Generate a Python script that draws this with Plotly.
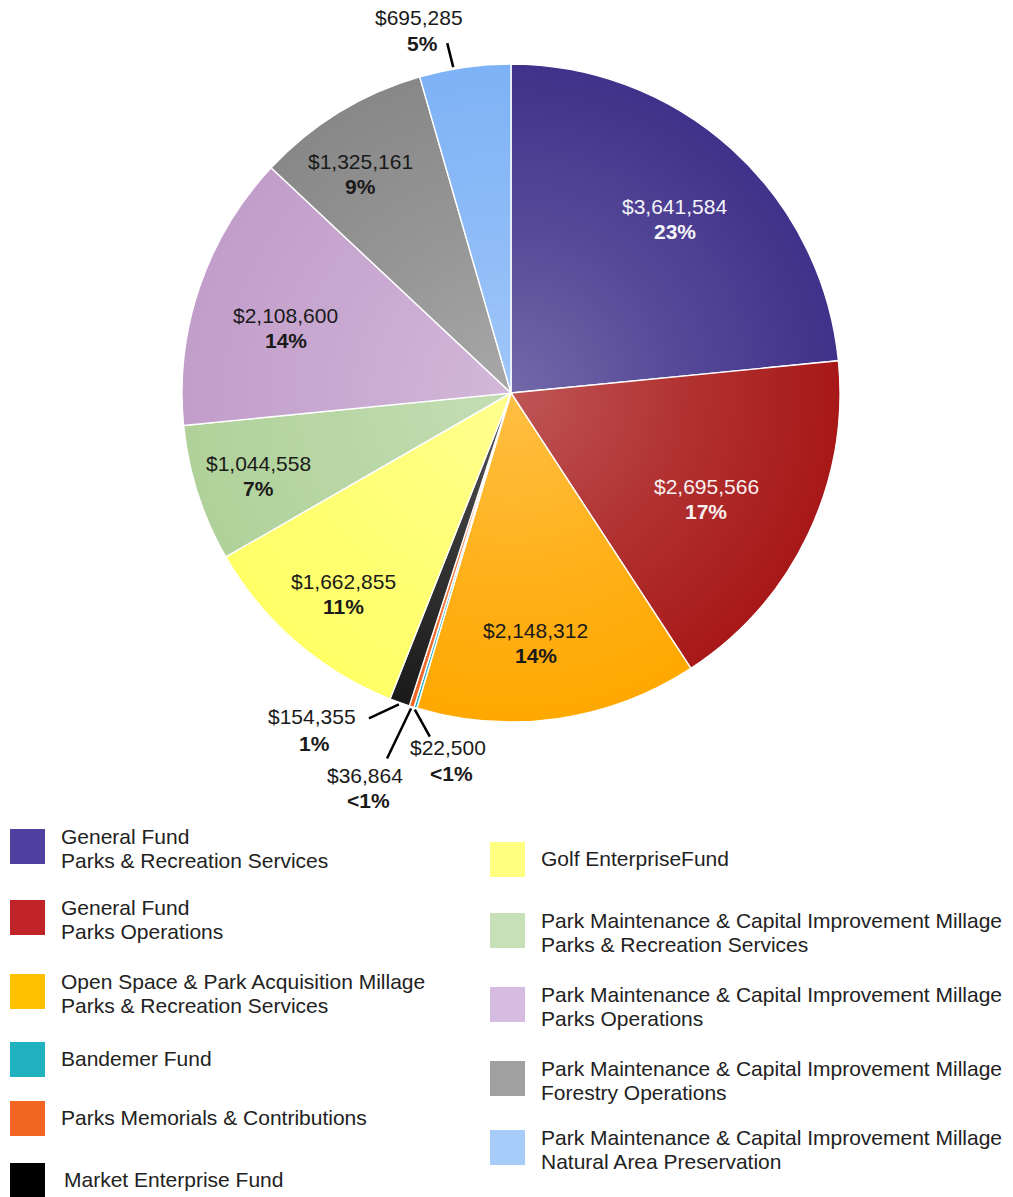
import math
import base64
import plotly.graph_objects as go

# ---- data ---------------------------------------------------------------
FUNDS = [
    "General Fund\nParks & Recreation Services",
    "General Fund\nParks Operations",
    "Open Space & Park Acquisition Millage\nParks & Recreation Services",
    "Bandemer Fund",
    "Parks Memorials & Contributions",
    "Market Enterprise Fund",
    "Golf EnterpriseFund",
    "Park Maintenance & Capital Improvement Millage\nParks & Recreation Services",
    "Park Maintenance & Capital Improvement Millage\nParks Operations",
    "Park Maintenance & Capital Improvement Millage\nForestry Operations",
    "Park Maintenance & Capital Improvement Millage\nNatural Area Preservation",
]
AMOUNTS = [3641584, 2695566, 2148312, 22500, 36864, 154355,
           1662855, 1044558, 2108600, 1325161, 695285]
PCT_LABELS = ["23%", "17%", "14%", "<1%", "<1%", "1%",
              "11%", "7%", "14%", "9%", "5%"]
# slice fills (outer tone; a radial sheen lightens them toward the centre)
COLORS = ["#40318a", "#a81818", "#ffa800", "#1fb0bf", "#f26522", "#1a1a1a",
          "#ffff66", "#b0d29a", "#c29ecb", "#888888", "#7eb2f6"]
# legend swatch fills
SWATCH_COLORS = ["#5040a0", "#c02428", "#ffc000", "#20b2c0", "#f26522", "#000000",
                 "#ffff80", "#c8e0b8", "#d6bce0", "#a0a0a0", "#a8ccfa"]

# ---- page geometry ------------------------------------------------------
W, H = 1013, 1197
CX, CY, R = 511, 393, 329
FONT = "Liberation Sans, Arial, sans-serif"
DARK = "#1a1a1a"
FS = 21

# label placement inside slices: (fraction of radius, angle tweak in degrees, colour)
INSIDE = {
    0: (0.72, 1.5, "#f4f4f8"),
    1: (0.68, 3.5, "#f8f0f0"),
    2: (0.77, 2.7, DARK),
    6: (0.80, -1.4, DARK),
    7: (0.81, -1.0, DARK),
    8: (0.71, -3.2, DARK),
    9: (0.80, -3.3, DARK),
}
# callouts: angle tweak, leader end offset, value-text offset, percent-text offset (px)
OUTSIDE = {
    10: dict(dt=-2.0, end=(-6, -24), val=(-28, -24), pct=(-25, 2)),
    5: dict(dt=0.0, end=(-30, 14), val=(-57, 0), pct=(-54, 27)),
    4: dict(dt=0.0, end=(-24, 50), val=(-22, 19), pct=(-19, 44)),
    3: dict(dt=0.0, end=(15, 27), val=(18, 13), pct=(22, 39)),
}
# legend: (column x of swatch, swatch top y)
LEGEND_POS = [
    (10, 829), (10, 900), (10, 974), (10, 1042), (10, 1101), (10, 1163),
    (490, 842), (490, 913), (490, 987), (490, 1061), (490, 1130),
]
SW = 35

total = sum(AMOUNTS)


def px(x, y):
    return x / W, 1 - y / H


def polar(theta_deg, rr):
    t = math.radians(theta_deg)
    return CX + rr * math.sin(t), CY - rr * math.cos(t)


fig = go.Figure(go.Pie(
    values=AMOUNTS,
    labels=[f.replace("\n", " ") for f in FUNDS],
    marker=dict(colors=COLORS, line=dict(color="white", width=1.4)),
    sort=False,
    direction="clockwise",
    rotation=0,
    textinfo="none",
    hoverinfo="label+value+percent",
    showlegend=False,
    domain=dict(x=[(CX - R) / W, (CX + R) / W],
                y=[1 - (CY + R) / H, 1 - (CY - R) / H]),
))

# radial sheen over the pie: lighter toward the centre
sheen_svg = (
    "<svg xmlns='http://www.w3.org/2000/svg' width='200' height='200' viewBox='0 0 200 200'>"
    "<defs><radialGradient id='g' cx='50%' cy='50%' r='50%'>"
    "<stop offset='0' stop-color='white' stop-opacity='0.27'/>"
    "<stop offset='0.5' stop-color='white' stop-opacity='0.12'/>"
    "<stop offset='1' stop-color='white' stop-opacity='0'/>"
    "</radialGradient></defs>"
    "<circle cx='100' cy='100' r='100' fill='url(#g)'/></svg>"
)
sheen_uri = "data:image/svg+xml;base64," + base64.b64encode(sheen_svg.encode()).decode()
ix, iy = px(CX - R, CY - R)
fig.add_layout_image(dict(
    source=sheen_uri, xref="paper", yref="paper", x=ix, y=iy,
    sizex=2 * R / W, sizey=2 * R / H, xanchor="left", yanchor="top",
    sizing="stretch", layer="above", opacity=1))

annotations = []
shapes = []


def text(x, y, s, color=DARK, bold=False, size=FS, anchor="center"):
    xp, yp = px(x, y)
    annotations.append(dict(
        x=xp, y=yp, xref="paper", yref="paper", showarrow=False,
        text=f"<b>{s}</b>" if bold else s, xanchor=anchor, yanchor="middle",
        font=dict(family=FONT, size=size, color=color)))


# slice labels
cum = 0
for i, v in enumerate(AMOUNTS):
    mid = 360 * (cum + v / 2) / total
    cum += v
    amount = f"${v:,}"
    if i in INSIDE:
        rf, dt, col = INSIDE[i]
        x, y = polar(mid + dt, R * rf)
        text(x, y - 15, amount, col)
        text(x, y + 10, PCT_LABELS[i], col, bold=True)
    elif i in OUTSIDE:
        o = OUTSIDE[i]
        x0, y0 = polar(mid + o["dt"], R + 2)
        x1, y1 = x0 + o["end"][0], y0 + o["end"][1]
        a0, b0 = px(x0, y0)
        a1, b1 = px(x1, y1)
        shapes.append(dict(type="line", xref="paper", yref="paper",
                           x0=a0, y0=b0, x1=a1, y1=b1,
                           line=dict(color="black", width=2.5)))
        text(x1 + o["val"][0], y1 + o["val"][1] - 2, amount)
        text(x1 + o["pct"][0], y1 + o["pct"][1] - 2, PCT_LABELS[i], bold=True)

# legend swatches and names
for name, col, (lx, ty) in zip(FUNDS, SWATCH_COLORS, LEGEND_POS):
    a0, b0 = px(lx, ty)
    a1, b1 = px(lx + SW, ty + SW)
    shapes.append(dict(type="rect", xref="paper", yref="paper",
                       x0=a0, y0=b0, x1=a1, y1=b1,
                       fillcolor=col, line=dict(width=0)))
    lines = name.split("\n")
    tx = lx + SW + 14
    if len(lines) == 2:
        text(tx, ty + 7, lines[0], "#222222", anchor="left")
        text(tx, ty + 31, lines[1], "#222222", anchor="left")
    else:
        text(tx + (3 if lx < 100 and ty > 1150 else 0), ty + 16, lines[0],
             "#222222", anchor="left")

fig.update_layout(
    width=W, height=H, autosize=False,
    margin=dict(l=0, r=0, t=0, b=0),
    paper_bgcolor="white", plot_bgcolor="white",
    annotations=annotations, shapes=shapes,
)

fig.write_html("out.html")
